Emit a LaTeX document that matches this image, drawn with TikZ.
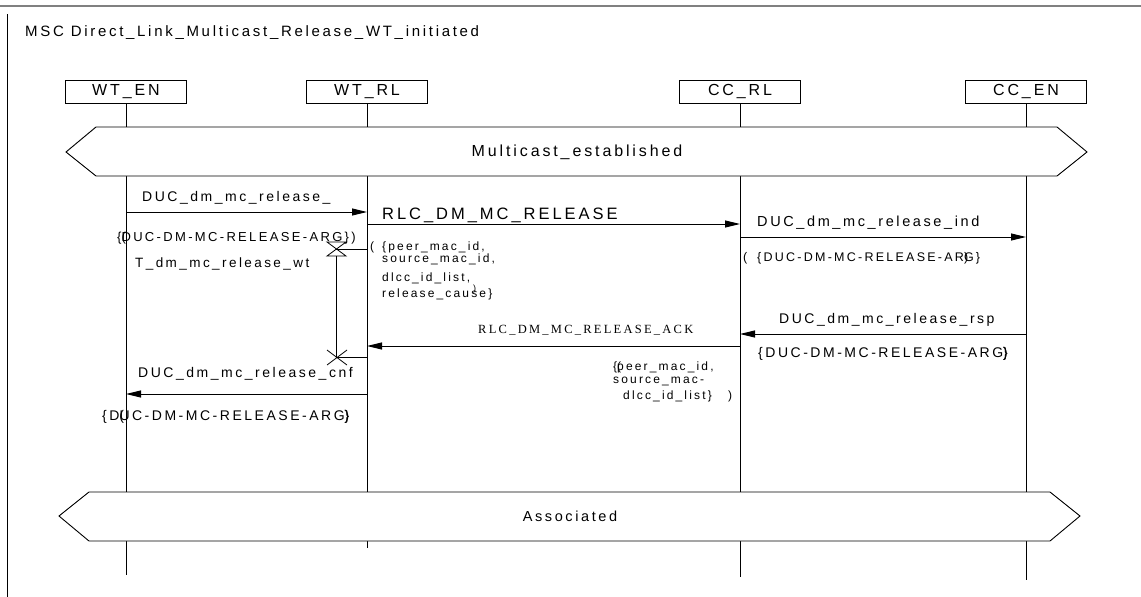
\documentclass[tikz,border=0pt]{standalone}
\usepackage{fontspec}
\setmainfont{Liberation Sans}
\newfontfamily\mscsans[LetterSpace=18]{Liberation Sans}
\newfontfamily\mscserif[LetterSpace=18]{Liberation Serif}
\usetikzlibrary{arrows.meta}
\newcommand\mscfs[1]{\fontsize{#1}{#1}\selectfont}
\begin{document}
\begin{tikzpicture}[x=1pt,y=-1pt,
  txt/.style={inner sep=0pt, anchor=base west, font=\mscsans\mscfs{14}},
  inst/.style={draw, line width=0.9pt, minimum width=121pt, minimum height=23pt, inner sep=0pt, font=\mscsans\mscfs{16}},
  life/.style={line width=0.9pt},
  msg/.style={line width=0.9pt, -{Triangle[length=15pt,width=7pt]}},
  cond/.style={line width=0.9pt, fill=white},
  thin/.style={line width=0.8pt}]
\useasboundingbox (0,0) rectangle (1141,597);
% frame
\draw[gray, line width=2pt] (0,6) -- (1141,6);
\draw[life] (7,14) -- (7,597);
\node[txt, font=\mscsans\mscfs{15}] (title) at (25,36) {MSC Direct\_Link\_Multicast\_Release\_WT\_initiated};
% instances
\node[inst] (wten) at (126,91.5) {WT\_EN};
\node[inst] (wtrl) at (367,91.5) {WT\_RL};
\node[inst] (ccrl) at (740,91.5) {CC\_RL};
\node[inst] (ccen) at (1026,91.5) {CC\_EN};
% lifelines
\foreach \n/\x/\e in {wten/126/575, wtrl/367/548, ccrl/740/577, ccen/1026/580}{
  \draw[life] (\n.south) -- (\x,127);
  \draw[life] (\x,176) -- (\x,492);
  \draw[life] (\x,541) -- (\x,\e);
}
% conditions
\draw[cond] (66,152) -- (96,127) -- (1057,127) -- (1087,152) -- (1057,176) -- (96,176) -- cycle;
\node[txt, anchor=center, font=\mscsans\mscfs{16}] (mcest) at (577,152) {Multicast\_established};
\draw[cond] (59,516) -- (89,492) -- (1050,492) -- (1080,516) -- (1050,541) -- (89,541) -- cycle;
\node[txt, anchor=center, font=\mscsans\mscfs{14.5}] (assoc) at (570,516) {Associated};
% message 1
\coordinate (a1) at (126,212); \coordinate (b1) at (367,212);
\draw[msg] (a1) -- (b1);
\node[txt] (m1lab) at (142,201) {DUC\_dm\_mc\_release\_};
\node[txt, font=\mscsans\mscfs{13}] (m1arg) at (117,241) {\{\rlap{(}DUC-DM-MC-RELEASE-ARG\})};
% message 2
\coordinate (b2) at (367,224); \coordinate (c2) at (740,224);
\draw[msg] (b2) -- (c2);
\node[txt, font=\mscsans\mscfs{16.5}] (m2lab) at (382,219) {RLC\_DM\_MC\_RELEASE};
\node[txt, font=\mscsans\mscfs{12}] (p0) at (370,250) {(};
\node[txt, font=\mscsans\mscfs{12}] (p1) at (382,250) {\{peer\_mac\_id,};
\node[txt, font=\mscsans\mscfs{12}] (p2) at (382,262) {source\_mac\_id,};
\node[txt, font=\mscsans\mscfs{12}] (p3) at (382,281) {dlcc\_id\_list,};
\node[txt, font=\mscsans\mscfs{12}] (p4) at (382,297) {release\_cause\}};
\node[txt, font=\mscsans\mscfs{9}] (p5) at (473,291) {)};
% timer
\coordinate (tstart) at (336,249); \coordinate (bt) at (367,249);
\coordinate (tend) at (336,357); \coordinate (bte) at (367,357);
\draw[thin] (bt) -- (tstart);
\draw[thin] (327,242) -- (346,242) -- (327,256) -- (346,256) -- cycle;
\draw[thin] (336,256) -- (tend);
\draw[thin] (327,350) -- (347,365) (327,365) -- (347,350);
\draw[thin] (tend) -- (bte);
\node[txt, font=\mscsans\mscfs{13.5}] (tlab) at (135,267) {T\_dm\_mc\_release\_wt};
% message 3
\coordinate (c3) at (740,237); \coordinate (d3) at (1026,237);
\draw[msg] (c3) -- (d3);
\node[txt, font=\mscsans\mscfs{14.5}] (m3lab) at (757,226) {DUC\_dm\_mc\_release\_ind};
\node[txt, font=\mscsans\mscfs{12.5}] (m3p) at (743,261) {(};
\node[txt, font=\mscsans\mscfs{12.5}] (m3arg) at (757,261) {\{DUC-DM-MC-RELEASE-AR\rlap{)}G\}};
% message 4
\coordinate (d4) at (1026,334); \coordinate (c4) at (740,334);
\draw[msg] (d4) -- (c4);
\node[txt] (m4lab) at (779,323) {DUC\_dm\_mc\_release\_rsp};
\node[txt] (m4arg) at (758,357) {\{DUC-DM-MC-RELEASE-ARG\rlap{)}\}};
% message 5
\coordinate (c5) at (740,346); \coordinate (b5) at (367,346);
\draw[msg] (c5) -- (b5);
\node[txt, font=\mscserif\mscfs{12.5}] (m5lab) at (478,333) {RLC\_DM\_MC\_RELEASE\_ACK};
\node[txt, font=\mscsans\mscfs{12}] (q1) at (613,370) {\{\rlap{(}peer\_mac\_id,};
\node[txt, font=\mscsans\mscfs{12}] (q2) at (613,383) {source\_mac-};
\node[txt, font=\mscsans\mscfs{12}] (q3) at (623,399) {dlcc\_id\_list\}};
\node[txt, font=\mscsans\mscfs{12}] (q4) at (728,399) {)};
% message 6
\coordinate (b6) at (367,394); \coordinate (a6) at (126,394);
\draw[msg] (b6) -- (a6);
\node[txt] (m6lab) at (138,377) {DUC\_dm\_mc\_release\_cnf};
\node[txt] (m6arg) at (102,420) {\{D\rlap{(}UC-DM-MC-RELEASE-ARG\rlap{)}\}};
\end{tikzpicture}
\end{document}
